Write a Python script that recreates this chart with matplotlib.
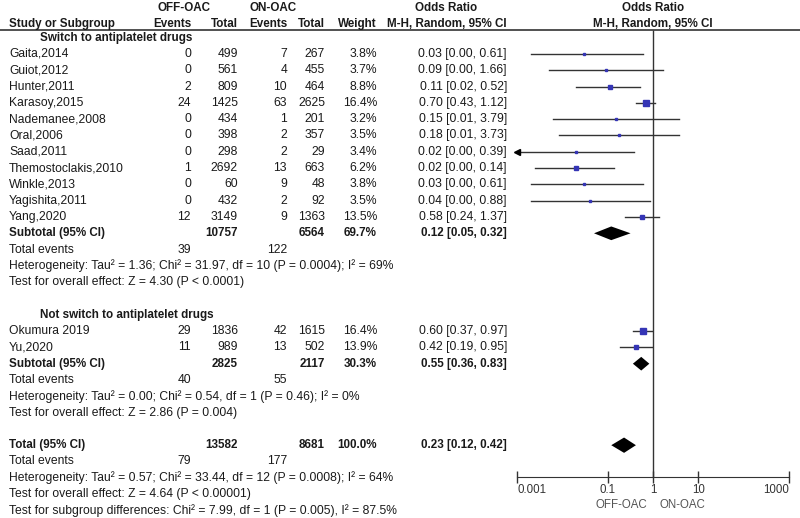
import numpy as np
import matplotlib
matplotlib.use("Agg")
import matplotlib.pyplot as plt
from matplotlib import transforms
from matplotlib.lines import Line2D

plt.rcParams['font.family'] = ['Liberation Sans', 'DejaVu Sans']

# data
studies = ['Gaita,2014', 'Guiot,2012', 'Hunter,2011', 'Karasoy,2015', 'Nademanee,2008',
           'Oral,2006', 'Saad,2011', 'Themostoclakis,2010', 'Winkle,2013', 'Yagishita,2011',
           'Yang,2020', 'Okumura 2019', 'Yu,2020']
group_sizes = [11, 2]
group_titles = ['Switch to antiplatelet drugs', 'Not switch to antiplatelet drugs']
off_events = [0, 0, 2, 24, 0, 0, 0, 1, 0, 0, 12, 29, 11]
off_total = [499, 561, 809, 1425, 434, 398, 298, 2692, 60, 432, 3149, 1836, 989]
on_events = [7, 4, 10, 63, 1, 2, 2, 13, 9, 2, 9, 42, 13]
on_total = [267, 455, 464, 2625, 201, 357, 29, 663, 48, 92, 1363, 1615, 502]
weight = [3.8, 3.7, 8.8, 16.4, 3.2, 3.5, 3.4, 6.2, 3.8, 3.5, 13.5, 16.4, 13.9]
or_est = [0.03, 0.09, 0.11, 0.70, 0.15, 0.18, 0.02, 0.02, 0.03, 0.04, 0.58, 0.60, 0.42]
ci_lo = [0.00, 0.00, 0.02, 0.43, 0.01, 0.01, 0.00, 0.00, 0.00, 0.00, 0.24, 0.37, 0.19]
ci_hi = [0.61, 1.66, 0.52, 1.12, 3.79, 3.73, 0.39, 0.14, 0.61, 0.88, 1.37, 0.97, 0.95]
# lower ends as drawn (the printed 0.00 is rounded)
ci_lo_drawn = [0.002, 0.005, 0.02, 0.43, 0.0063, 0.0086, 0.0005, 0.0025, 0.002, 0.002, 0.24, 0.37, 0.19]

sub_or = [0.12, 0.55]
sub_lo = [0.05, 0.36]
sub_hi = [0.32, 0.83]
sub_off_total = [10757, 2825]
sub_on_total = [6564, 2117]
sub_weight = [69.7, 30.3]
sub_off_events = [39, 40]
sub_on_events = [122, 55]
sub_het = ['Heterogeneity: Tau\u00b2 = 1.36; Chi\u00b2 = 31.97, df = 10 (P = 0.0004); I\u00b2 = 69%',
           'Heterogeneity: Tau\u00b2 = 0.00; Chi\u00b2 = 0.54, df = 1 (P = 0.46); I\u00b2 = 0%']
sub_test = ['Test for overall effect: Z = 4.30 (P < 0.0001)',
            'Test for overall effect: Z = 2.86 (P = 0.004)']

tot_or, tot_lo, tot_hi = 0.23, 0.12, 0.42
tot_off_total, tot_on_total = 13582, 8681
tot_off_events, tot_on_events = 79, 177
tot_lines = ['Heterogeneity: Tau\u00b2 = 0.57; Chi\u00b2 = 33.44, df = 12 (P = 0.0008); I\u00b2 = 64%',
             'Test for overall effect: Z = 4.64 (P < 0.00001)',
             'Test for subgroup differences: Chi\u00b2 = 7.99, df = 1 (P = 0.005), I\u00b2 = 87.5%']

ticks = [0.001, 0.1, 1, 10, 1000]
tick_labels = ['0.001', '0.1', '1', '10', '1000']

W, H = 800, 518
y0, dy = 54, 16.3   # pixel of first study row, row step
fig = plt.figure(figsize=(8, 5.18), dpi=100)
ax = fig.add_axes([517 / W, 0, 272 / W, 1])
ax.set_xscale('log')
ax.set_xlim(0.001, 1000)
ax.set_ylim((H - y0) / dy, -y0 / dy)

tr = transforms.blended_transform_factory(fig.transFigure, ax.transData)
fs = 8.7
fsb = 8.4
tc = '#1a1a1a'


def put(px, row, s, ha='left', bold=False, color=tc):
    fig.text(px / W, row, s, transform=tr, ha=ha, va='center',
             fontsize=fsb if bold else fs,
             fontweight='bold' if bold else 'normal', color=color)


def row_of(px):
    return (px - y0) / dy


# header
put(157, row_of(8), 'OFF-OAC', bold=True)
put(250, row_of(8), 'ON-OAC', bold=True)
put(446, row_of(8), 'Odds Ratio', ha='center', bold=True)
put(653, row_of(8), 'Odds Ratio', ha='center', bold=True)
hr = row_of(24)
put(9, hr, 'Study or Subgroup', bold=True)
put(191, hr, 'Events', ha='right', bold=True)
put(238, hr, 'Total', ha='right', bold=True)
put(287, hr, 'Events', ha='right', bold=True)
put(325, hr, 'Total', ha='right', bold=True)
put(377, hr, 'Weight', ha='right', bold=True)
put(507, hr, 'M-H, Random, 95% CI', ha='right', bold=True)
put(653, hr, 'M-H, Random, 95% CI', ha='center', bold=True)
line_row = row_of(30.5)
fig.add_artist(Line2D([0, 1], [line_row, line_row], transform=tr, color='#333333', lw=1.2))

col_x = [191, 238, 287, 325, 377, 507]
sq_col = '#3535b5'
ci_col = '#333333'


def diamond(row, est, lo, hi, h=0.42):
    ax.fill([lo, est, hi, est], [row, row - h, row, row + h], color='black', lw=0)


row = -1
start = 0
for g, n in enumerate(group_sizes):
    put(40, row, group_titles[g], bold=True)
    row += 1
    for k in range(start, start + n):
        put(9, row, studies[k])
        vals = [off_events[k], off_total[k], on_events[k], on_total[k]]
        for x, v in zip(col_x, vals):
            put(x, row, str(v), ha='right')
        put(col_x[4], row, '%.1f%%' % weight[k], ha='right')
        put(col_x[5], row, '%.2f [%.2f, %.2f]' % (or_est[k], ci_lo[k], ci_hi[k]), ha='right')
        ax.plot([ci_lo_drawn[k], ci_hi[k]], [row, row], color=ci_col, lw=1)
        if ci_lo_drawn[k] < ax.get_xlim()[0]:
            ax.plot(ax.get_xlim()[0], row, marker='<', color='black', ms=4, clip_on=False)
        ax.plot(or_est[k], row, marker='s', color=sq_col, mec=sq_col,
                ms=0.9 * np.sqrt(weight[k]), lw=0)
        row += 1
    start += n
    # subtotal
    put(9, row, 'Subtotal (95% CI)', bold=True)
    put(col_x[1], row, str(sub_off_total[g]), ha='right', bold=True)
    put(col_x[3], row, str(sub_on_total[g]), ha='right', bold=True)
    put(col_x[4], row, '%.1f%%' % sub_weight[g], ha='right', bold=True)
    put(col_x[5], row, '%.2f [%.2f, %.2f]' % (sub_or[g], sub_lo[g], sub_hi[g]), ha='right', bold=True)
    diamond(row, sub_or[g], sub_lo[g], sub_hi[g])
    row += 1
    put(9, row, 'Total events')
    put(col_x[0], row, str(sub_off_events[g]), ha='right')
    put(col_x[2], row, str(sub_on_events[g]), ha='right')
    row += 1
    put(9, row, sub_het[g])
    row += 1
    put(9, row, sub_test[g])
    row += 2

# overall
put(9, row, 'Total (95% CI)', bold=True)
put(col_x[1], row, str(tot_off_total), ha='right', bold=True)
put(col_x[3], row, str(tot_on_total), ha='right', bold=True)
put(col_x[4], row, '100.0%', ha='right', bold=True)
put(col_x[5], row, '%.2f [%.2f, %.2f]' % (tot_or, tot_lo, tot_hi), ha='right', bold=True)
diamond(row, tot_or, tot_lo, tot_hi, h=0.47)
row += 1
put(9, row, 'Total events')
put(col_x[0], row, str(tot_off_events), ha='right')
put(col_x[2], row, str(tot_on_events), ha='right')
for s in tot_lines:
    row += 1
    put(9, row, s)

# axis
axis_row = row_of(477.5)
ax.vlines(1, line_row, axis_row, color=ci_col, lw=1)
for s in ['top', 'left', 'right']:
    ax.spines[s].set_visible(False)
ax.spines['bottom'].set_position(('data', axis_row))
ax.spines['bottom'].set_color('#333333')
ax.set_yticks([])
ax.set_xticks(ticks)
ax.set_xticklabels(tick_labels)
ax.xaxis.set_minor_locator(matplotlib.ticker.NullLocator())
ax.tick_params(axis='x', direction='inout', length=8, width=1, color='#333333',
               labelsize=8.3, labelcolor='#333333', pad=1)
labs = ax.get_xticklabels()
labs[0].set_ha('left')
labs[-1].set_ha('right')
off = transforms.offset_copy(ax.transData, fig=fig, x=-6, y=0, units='dots')
ax.text(1, row_of(505), 'OFF-OAC', transform=off, ha='right', va='center',
        fontsize=8.3, color='#555555')
on = transforms.offset_copy(ax.transData, fig=fig, x=6, y=0, units='dots')
ax.text(1, row_of(505), 'ON-OAC', transform=on, ha='left', va='center',
        fontsize=8.3, color='#555555')

fig.savefig('out.png', dpi=100, facecolor='white')
